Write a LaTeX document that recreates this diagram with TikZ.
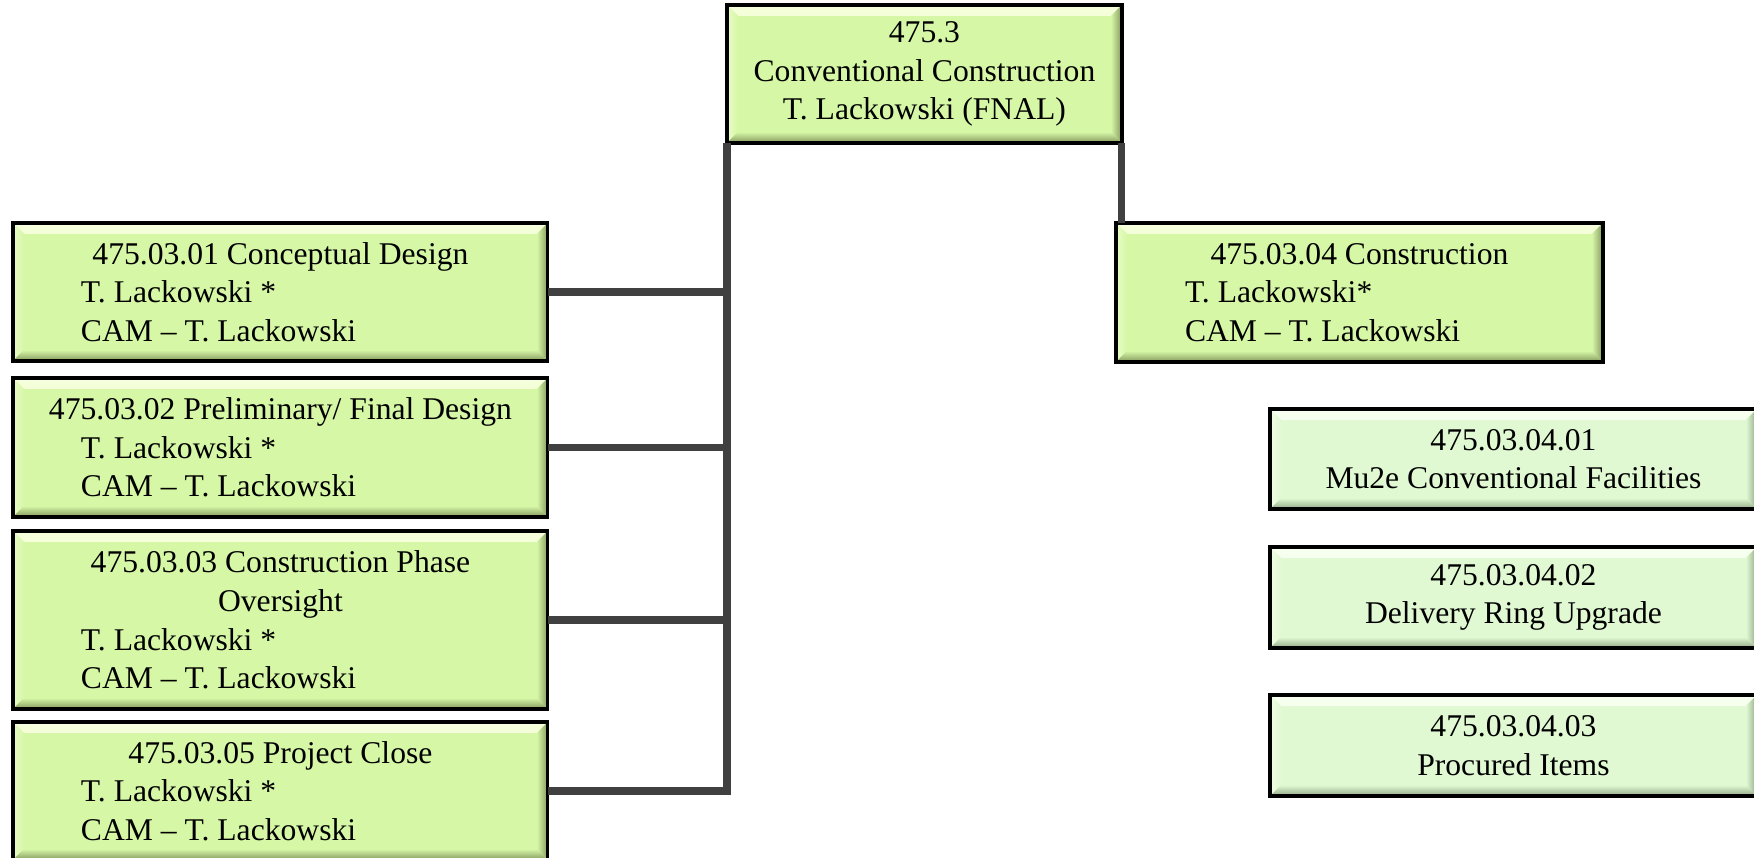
\documentclass[tikz,border=0pt]{standalone}
\usepackage{fontspec}
\setmainfont{Liberation Serif}
\definecolor{boxfill}{HTML}{D6F7A6}
\definecolor{boxlight}{HTML}{F6FFDC}
\definecolor{boxdark}{HTML}{84985E}
\definecolor{subfill}{HTML}{E1F9D3}
\definecolor{sublight}{HTML}{F8FFF0}
\definecolor{subdark}{HTML}{93A886}
\definecolor{conncol}{HTML}{404040}
\newcommand\bevelbw{0.22cm}
\newcommand\bevelpaint[3]{%
  \shade[top color=#2, bottom color=#1]
    (path picture bounding box.north west) -- (path picture bounding box.north east)
    -- ([xshift=-\bevelbw,yshift=-\bevelbw]path picture bounding box.north east)
    -- ([xshift=\bevelbw,yshift=-\bevelbw]path picture bounding box.north west) -- cycle;
  \shade[left color=#2!60!#1, right color=#1]
    (path picture bounding box.north west) -- (path picture bounding box.south west)
    -- ([xshift=\bevelbw,yshift=\bevelbw]path picture bounding box.south west)
    -- ([xshift=\bevelbw,yshift=-\bevelbw]path picture bounding box.north west) -- cycle;
  \shade[left color=#1, right color=#3]
    (path picture bounding box.north east) -- (path picture bounding box.south east)
    -- ([xshift=-\bevelbw,yshift=\bevelbw]path picture bounding box.south east)
    -- ([xshift=-\bevelbw,yshift=-\bevelbw]path picture bounding box.north east) -- cycle;
  \shade[top color=#1, bottom color=#3]
    (path picture bounding box.south west) -- (path picture bounding box.south east)
    -- ([xshift=-\bevelbw,yshift=\bevelbw]path picture bounding box.south east)
    -- ([xshift=\bevelbw,yshift=\bevelbw]path picture bounding box.south west) -- cycle;
}
\tikzset{
  basebox/.style={draw=black, line width=1.8pt, inner sep=0pt, outer sep=0pt,
    anchor=north west, font=\fontsize{18}{22}\selectfont},
  wbsbox/.style={basebox, fill=boxfill, path picture={\bevelpaint{boxfill}{boxlight}{boxdark}}},
  subbox/.style={basebox, fill=subfill, align=center, path picture={\bevelpaint{subfill}{sublight}{subdark}}},
  conn/.style={draw=conncol, line width=4pt},
}
\newcommand\ind{\hspace*{1.36cm}}
\begin{document}
\begin{tikzpicture}[x=0.02cm, y=-0.02cm]
\useasboundingbox (0,0) rectangle (1754,858);
\clip (0,0) rectangle (1754,858);
\fill[white] (0,0) rectangle (1754,858);

\node[wbsbox, minimum width=7.9cm, minimum height=2.76cm, align=center] (top) at (727,5)
  {475.3\\Conventional Construction\\T. Lackowski (FNAL)};

\node[wbsbox, minimum width=10.7cm, minimum height=2.76cm] (b1) at (13,223)
  {\parbox{10.7cm}{\centering 475.03.01 Conceptual Design\par\raggedright\ind T. Lackowski *\par\ind CAM – T. Lackowski}};
\node[wbsbox, minimum width=10.7cm, minimum height=2.78cm] (b2) at (13,378)
  {\parbox{10.7cm}{\centering 475.03.02 Preliminary/ Final Design\par\raggedright\ind T. Lackowski *\par\ind CAM – T. Lackowski}};
\node[wbsbox, minimum width=10.7cm, minimum height=3.56cm] (b3) at (13,531)
  {\parbox{10.7cm}{\centering 475.03.03 Construction Phase\\Oversight\par\raggedright\ind T. Lackowski *\par\ind CAM – T. Lackowski}};
\node[wbsbox, minimum width=10.7cm, minimum height=2.76cm] (b5) at (13,722)
  {\parbox{10.7cm}{\centering 475.03.05 Project Close\par\raggedright\ind T. Lackowski *\par\ind CAM – T. Lackowski}};

\node[wbsbox, minimum width=9.74cm, minimum height=2.78cm] (b4) at (1116,223)
  {\parbox{9.74cm}{\centering 475.03.04 Construction\par\raggedright\hspace*{1.38cm}T. Lackowski*\par\hspace*{1.38cm}CAM – T. Lackowski}};

\node[subbox, minimum width=9.74cm, minimum height=2.0cm] (s1) at (1270,409)
  {475.03.04.01\\Mu2e Conventional Facilities};
\node[subbox, minimum width=9.74cm, minimum height=2.02cm] (s2) at (1270,547)
  {475.03.04.02\\Delivery Ring Upgrade};
\node[subbox, minimum width=9.74cm, minimum height=2.02cm] (s3) at (1270,695)
  {475.03.04.03\\Procured Items};

\draw[conn] (top.south west) -- (top.south west |- b5.east) -- (b5.east);
\draw[conn] (b1.east) -- (b1.east -| top.south west);
\draw[conn] (b2.east) -- (b2.east -| top.south west);
\draw[conn] (b3.east) -- (b3.east -| top.south west);
\draw[conn] (top.south east) -- (top.south east |- b4.north);
\end{tikzpicture}
\end{document}
